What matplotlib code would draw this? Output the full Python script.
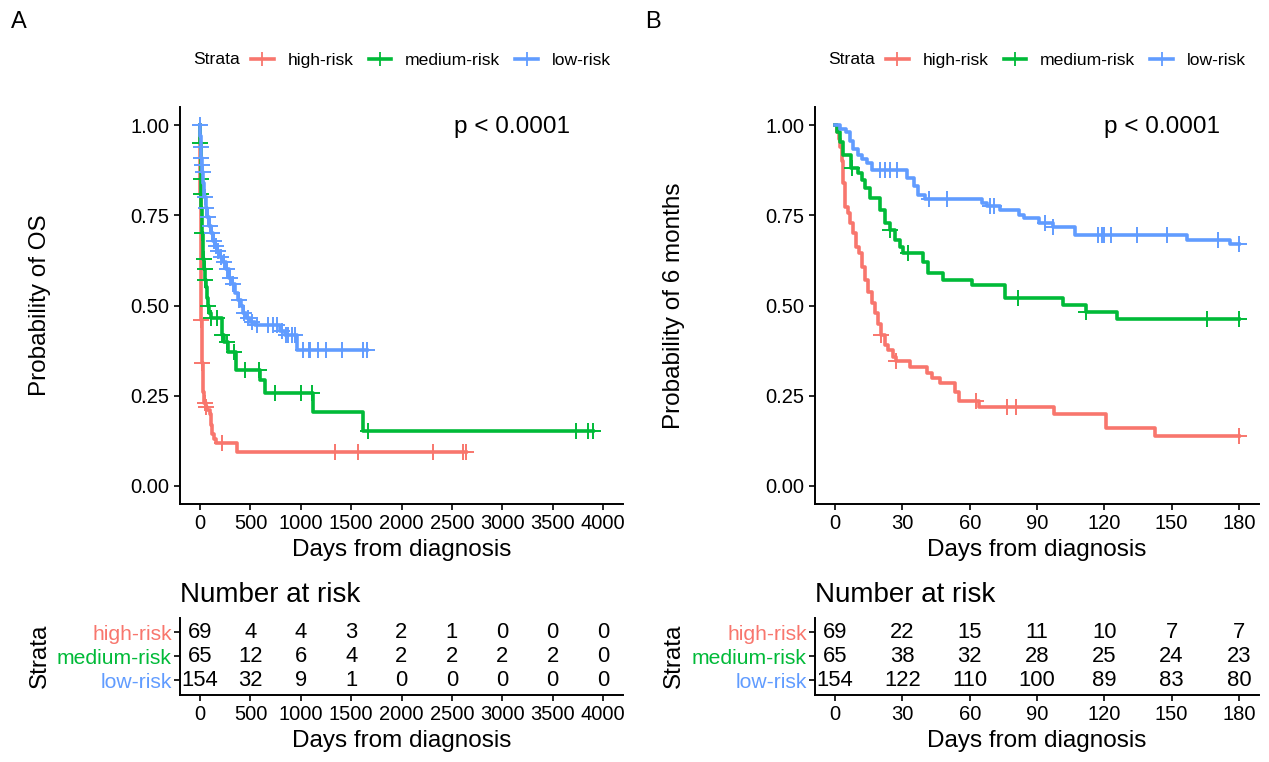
import numpy as np
import matplotlib.pyplot as plt
from matplotlib.lines import Line2D

plt.rcParams['font.family'] = ['Liberation Sans', 'DejaVu Sans']

strata = ["high-risk", "medium-risk", "low-risk"]
colors = ["#F8766D", "#00BA38", "#619CFF"]

# ---- Panel A: overall survival (days) ----
a_high_t = [0, 1, 2, 3, 4, 5, 6, 8, 10, 12, 14, 17, 20, 25, 30, 40, 55, 70, 95, 110, 120, 135, 160, 370]
a_high_s = [1.0, 0.93, 0.87, 0.81, 0.75, 0.70, 0.65, 0.59, 0.52, 0.46, 0.42, 0.38, 0.34, 0.30, 0.26, 0.23,
            0.22, 0.21, 0.20, 0.17, 0.145, 0.13, 0.12, 0.094]
a_high_cens = [12, 20, 45, 60, 220, 1340, 1570, 2310, 2610, 2640]

a_med_t = [0, 2, 4, 6, 8, 10, 13, 16, 20, 25, 30, 40, 50, 60, 70, 80, 90, 110, 220, 240, 280, 360,
           590, 640, 1120, 1620]
a_med_s = [1.0, 0.95, 0.92, 0.89, 0.85, 0.81, 0.77, 0.73, 0.70, 0.66, 0.63, 0.60, 0.57, 0.55, 0.52,
           0.50, 0.48, 0.465, 0.418, 0.40, 0.37, 0.321, 0.294, 0.257, 0.205, 0.152]
a_med_cens = [3, 8, 12, 22, 35, 45, 52, 80, 110, 170, 220, 270, 340, 450, 580, 740, 1000, 1110,
              1670, 3730, 3850, 3900]

a_low_t = [0, 3, 6, 10, 15, 20, 30, 40, 55, 70, 90, 110, 130, 150, 170, 200, 230, 260, 290, 320, 350,
           380, 410, 430, 460, 500, 540, 790, 840, 960]
a_low_s = [1.0, 0.97, 0.94, 0.91, 0.89, 0.87, 0.84, 0.80, 0.77, 0.745, 0.72, 0.70, 0.68, 0.665, 0.65,
           0.635, 0.62, 0.60, 0.575, 0.56, 0.535, 0.515, 0.50, 0.48, 0.465, 0.455, 0.446, 0.43, 0.418, 0.377]
a_low_cens = [2, 8, 12, 16, 25, 45, 60, 80, 100, 120, 140, 160, 180, 210, 240, 270, 300, 330, 390, 440,
              480, 520, 560, 670, 720, 760, 810, 850, 870, 910, 940, 1020, 1080, 1090, 1170, 1250, 1410,
              1620, 1660]

a_ticks = [0, 500, 1000, 1500, 2000, 2500, 3000, 3500, 4000]
a_risk = [[69, 4, 4, 3, 2, 1, 0, 0, 0],
          [65, 12, 6, 4, 2, 2, 2, 2, 0],
          [154, 32, 9, 1, 0, 0, 0, 0, 0]]

# ---- Panel B: 6 months ----
b_high_t = [0, 1, 1.5, 2.2, 3, 3.6, 4.5, 5.8, 6.7, 8, 9.5, 10.5, 12, 13.4, 14.7, 16.2, 17.6, 19, 20.5,
            22, 23.4, 25.6, 27.2, 33.4, 41, 43, 46.8, 53.5, 55, 64, 97.6, 120.7, 142.6]
b_high_s = [1.0, 0.98, 0.96, 0.94, 0.90, 0.84, 0.773, 0.756, 0.729, 0.70, 0.662, 0.645, 0.607, 0.57,
            0.537, 0.507, 0.479, 0.45, 0.418, 0.39, 0.377, 0.357, 0.346, 0.33, 0.313, 0.299, 0.285,
            0.26, 0.235, 0.219, 0.20, 0.16, 0.139]
b_high_cens = [20.5, 27.2, 63, 76.6, 80.6, 180]

b_med_t = [0, 1, 2, 3.6, 7, 10, 12, 13.4, 15.6, 20, 22, 24.5, 26.7, 29, 30.3, 39, 41.5, 48, 61, 75.7,
           101.6, 112, 125.6]
b_med_s = [1.0, 0.98, 0.953, 0.917, 0.88, 0.867, 0.848, 0.825, 0.798, 0.765, 0.729, 0.709, 0.681,
           0.662, 0.645, 0.62, 0.59, 0.571, 0.557, 0.521, 0.501, 0.482, 0.463]
b_med_cens = [7.5, 24.5, 32.5, 81.5, 112, 166, 180]

b_low_t = [0, 2, 5, 6.5, 8, 10, 12, 14, 16.5, 32, 35, 37, 40, 65.5, 67.5, 73.5, 82, 84, 91, 97, 107,
           157, 176]
b_low_s = [1.0, 0.99, 0.98, 0.955, 0.935, 0.917, 0.905, 0.895, 0.875, 0.853, 0.83, 0.806, 0.795,
           0.783, 0.776, 0.765, 0.751, 0.742, 0.729, 0.718, 0.695, 0.681, 0.67]
b_low_cens = [20, 22, 24.5, 27.6, 42, 50, 69, 71, 93.5, 97, 117, 119, 120, 123, 134.5, 148, 170.6, 180]

b_ticks = [0, 30, 60, 90, 120, 150, 180]
b_risk = [[69, 22, 15, 11, 10, 7, 7],
          [65, 38, 32, 28, 25, 24, 23],
          [154, 122, 110, 100, 89, 83, 80]]

W, H = 1269, 762
fig = plt.figure(figsize=(W / 100, H / 100), dpi=100)


def box(x0, x1, ytop, ybot):
    return [x0 / W, 1 - ybot / H, (x1 - x0) / W, (ybot - ytop) / H]


def km_panel(rect, curves, xlim, ticks, ylabel, pval_x):
    ax = fig.add_axes(rect)
    for (t, s, cens), col in zip(curves, colors):
        t = np.array(t, float)
        s = np.array(s, float)
        end = max(cens)
        ax.step(np.append(t, end), np.append(s, s[-1]), where='post', color=col, lw=2.6)
        c = np.array(cens, float)
        idx = np.searchsorted(t, c, side='right') - 1
        ax.plot(c, s[idx], ls='none', marker='+', ms=11, mew=1.4, color=col)
    ax.set_xlim(xlim)
    ax.set_ylim(-0.05, 1.05)
    ax.set_xticks(ticks)
    ax.set_yticks([0, 0.25, 0.5, 0.75, 1.0])
    ax.set_yticklabels(["0.00", "0.25", "0.50", "0.75", "1.00"])
    ax.tick_params(labelsize=14.5, width=1.2, length=4, color='black')
    for sp in ['top', 'right']:
        ax.spines[sp].set_visible(False)
    for sp in ['left', 'bottom']:
        ax.spines[sp].set_linewidth(1.4)
    ax.set_xlabel("Days from diagnosis", fontsize=17.5, labelpad=4)
    ax.set_ylabel(ylabel, fontsize=17.5)
    ax.yaxis.set_label_coords(-0.292, 0.5)
    ax.text(pval_x, 0.95, "p < 0.0001", transform=ax.transAxes, fontsize=17.5, ha='center', va='center')
    return ax


def risk_table(rect, xlim, ticks, risk):
    ax = fig.add_axes(rect)
    ax.set_xlim(xlim)
    ax.set_ylim(0.4, 3.6)
    ypos = [3, 2, 1]
    for row, y in zip(risk, ypos):
        for x, n in zip(ticks, row):
            ax.text(x, y, str(n), ha='center', va='center', fontsize=15.8)
    ax.set_xticks(ticks)
    ax.set_yticks(ypos)
    ax.set_yticklabels(strata)
    for lab, col in zip(ax.get_yticklabels(), colors):
        lab.set_color(col)
    ax.tick_params(axis='x', labelsize=14.5, width=1.2, length=4)
    ax.tick_params(axis='y', labelsize=15.2, width=1.2, length=4, pad=2)
    for sp in ['top', 'right']:
        ax.spines[sp].set_visible(False)
    for sp in ['left', 'bottom']:
        ax.spines[sp].set_linewidth(1.4)
    ax.set_xlabel("Days from diagnosis", fontsize=17.5, labelpad=4)
    ax.set_ylabel("Strata", fontsize=17.5)
    ax.yaxis.set_label_coords(-0.292, 0.5)
    ax.set_title("Number at risk", loc='left', fontsize=20, pad=11)
    return ax


def legend(x_strata, y):
    fig.text(x_strata / W, 1 - y / H, "Strata", fontsize=12.6, va='center', ha='left')
    handles = [Line2D([], [], color=c, lw=2.6, marker='+', ms=10, mew=1.3) for c in colors]
    fig.legend(handles, strata, loc='center left', bbox_to_anchor=((x_strata + 58) / W, 1 - y / H),
               ncol=3, frameon=False, fontsize=12.6, handlelength=1.3, handletextpad=0.8,
               columnspacing=0.85, borderpad=0, borderaxespad=0)


km_panel(box(180, 623, 107, 504),
         [(a_high_t, a_high_s, a_high_cens), (a_med_t, a_med_s, a_med_cens), (a_low_t, a_low_s, a_low_cens)],
         (-200, 4200), a_ticks, "Probability of OS", 0.749)
km_panel(box(815, 1259, 107, 504),
         [(b_high_t, b_high_s, b_high_cens), (b_med_t, b_med_s, b_med_cens), (b_low_t, b_low_s, b_low_cens)],
         (-9, 189), b_ticks, "Probability of 6 months", 0.781)

risk_table(box(180, 623, 617.6, 695), (-200, 4200), a_ticks, a_risk)
risk_table(box(815, 1259, 617.6, 695), (-9, 189), b_ticks, b_risk)

legend(193, 60)
legend(828, 60)

fig.text(11 / W, 1 - 22 / H, "A", fontsize=17, va='center', ha='left')
fig.text(645 / W, 1 - 22 / H, "B", fontsize=17, va='center', ha='left')

fig.savefig("out.png", dpi=100)
